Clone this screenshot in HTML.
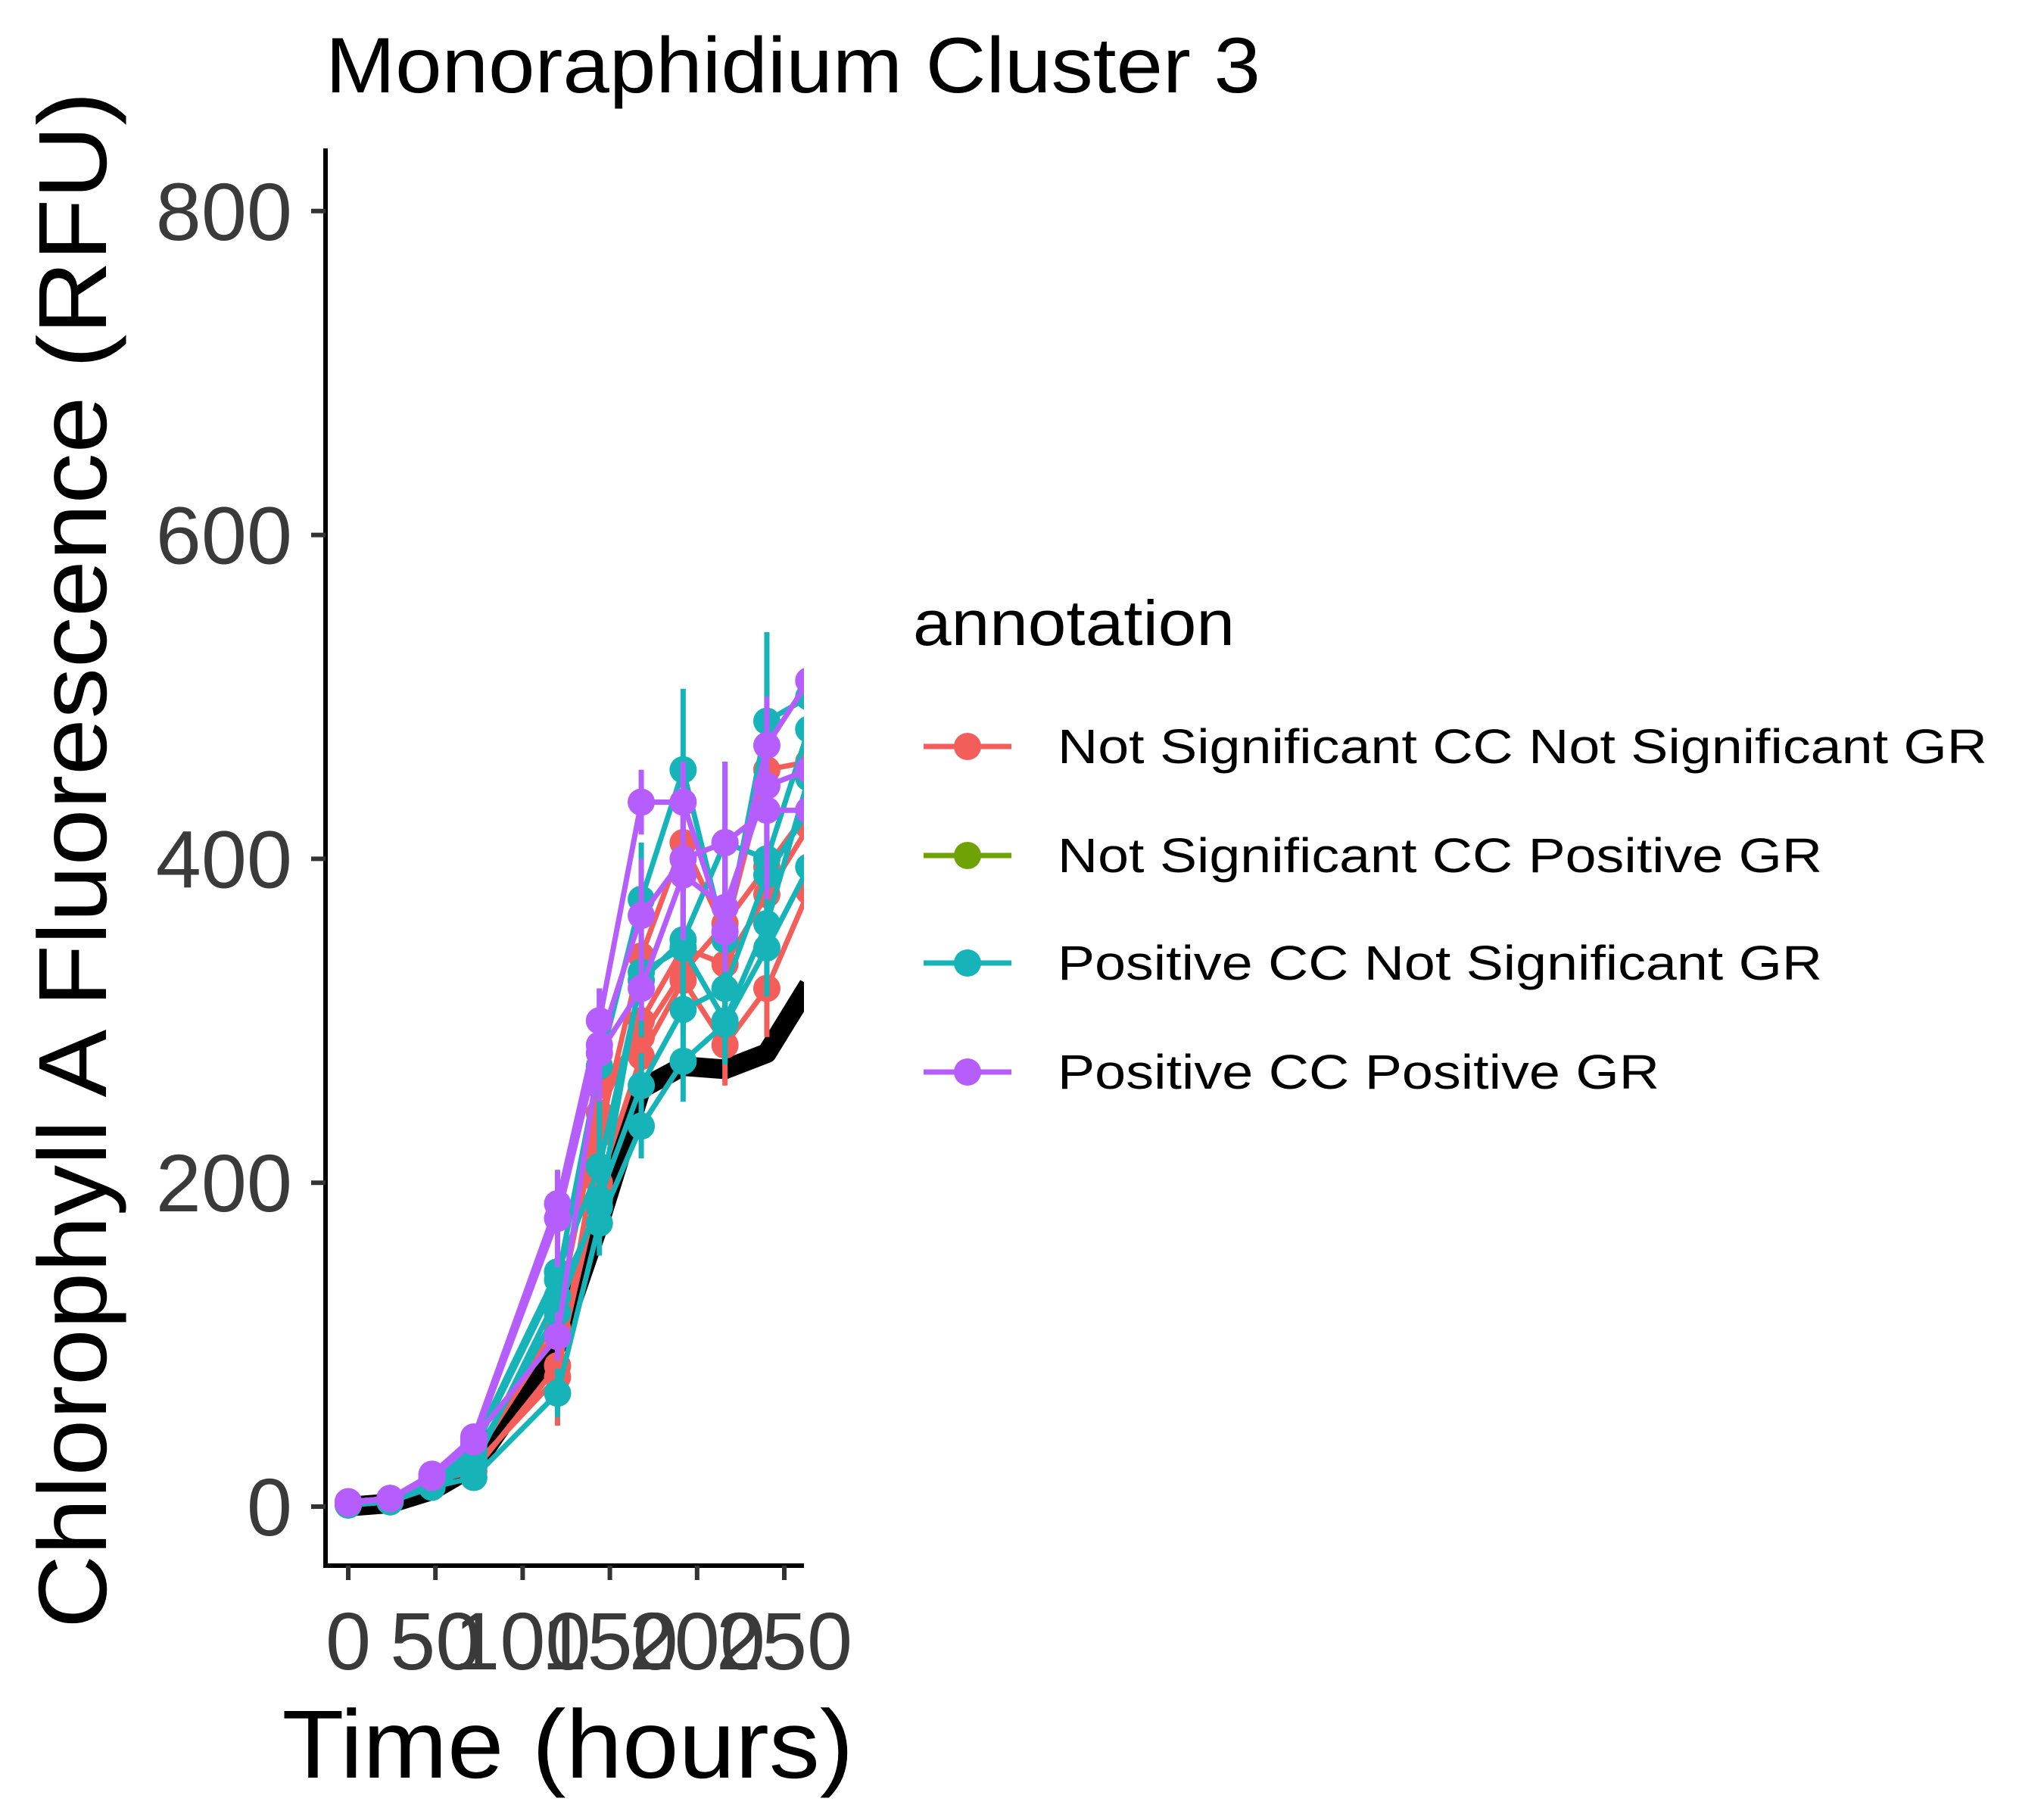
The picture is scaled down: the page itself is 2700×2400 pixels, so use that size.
<!DOCTYPE html>
<html><head><meta charset="utf-8">
<style>html,body{margin:0;padding:0;background:#fff}svg{display:block}</style>
</head><body>
<svg id="chart" xmlns="http://www.w3.org/2000/svg" width="2700" height="2400" viewBox="0 0 2700 2400" font-family="'Liberation Sans', Arial, sans-serif">
<rect x="0" y="0" width="2700" height="2400" fill="#fff"/>
<defs><clipPath id="panelClip"><rect x="430" y="196" width="632" height="1872"/></clipPath></defs>
<text x="430" y="122" font-size="104" fill="#000" textLength="1235" lengthAdjust="spacingAndGlyphs">Monoraphidium Cluster 3</text>
<text transform="translate(140,1136) rotate(-90)" text-anchor="middle" font-size="128" fill="#000" textLength="2030" lengthAdjust="spacingAndGlyphs">Chlorophyll A Fluorescence (RFU)</text>
<text x="750" y="2348" text-anchor="middle" font-size="128" fill="#000" textLength="755" lengthAdjust="spacingAndGlyphs">Time (hours)</text>
<g id="series" clip-path="url(#panelClip)"></g>
<g id="axes"></g>
<g id="legend">
<text x="1206" y="852" font-size="84" fill="#000" textLength="425" lengthAdjust="spacingAndGlyphs">annotation</text>
</g>
</svg>
<script>
const timesH = [0,24,48,72,120,144,168,192,216,240,264];
const yTicks = [0,200,400,600,800];
const xTicks = [0,50,100,150,200,250];
const legendLabels = ["Not Significant CC Not Significant GR","Not Significant CC Positive GR","Positive CC Not Significant GR","Positive CC Positive GR"];
const legendColors = ["#F35E5A","#6FA204","#16B4B8","#B55EFD"];
const meanLine = [0,2,10,25,100,175,258,272,270,280,322];
const redA = [2,4,15,22,87,200,278,325,285,320,380];
const redB = [3,5,16,28,118,243,300,345,335,378,420];
const redC = [2,5,14,25,80,230,340,410,355,455,460];
const redD = [3,5,15,30,110,260,290,330,360,395,430];
const tealA = [1,3,12,18,70,175,235,275,298,345,395];
const tealB = [2,4,13,35,140,272,375,455,350,485,500];
const tealC = [1,3,12,30,120,190,260,307,320,390,430];
const tealD = [2,4,14,38,145,210,325,350,410,400,480];
const tealE = [1,3,12,25,130,185,330,345,300,360,450];
const purpA = [3,5,20,43,187,300,435,435,355,470,510];
const purpB = [2,5,18,40,178,285,365,400,410,430,430];
const purpC = [3,5,18,42,105,280,320,390,370,445,455];
const errSmall = [1,1,2,4,15,20,20,25,25,30,30];
const errBig = [1,2,3,6,30,35,35,50,50,55,50];

const seriesList = [
 {vals:redA, c:0, e:errSmall},{vals:redB, c:0, e:errBig},{vals:redC, c:0, e:errBig},{vals:redD, c:0, e:errSmall},
 {vals:tealA, c:2, e:errSmall},{vals:tealB, c:2, e:errBig},{vals:tealC, c:2, e:errSmall},{vals:tealD, c:2, e:errBig},{vals:tealE, c:2, e:errSmall},
 {vals:purpA, c:3, e:errSmall},{vals:purpB, c:3, e:errBig},{vals:purpC, c:3, e:errSmall}
];
const NS = "http://www.w3.org/2000/svg";
const X0 = 460, XS = 2.304, Y0 = 1990, YS = 2.139;
function sx(t){ return X0 + t*XS; }
function sy(v){ return Y0 - v*YS; }
function mk(tag, attrs, parent){ const e = document.createElementNS(NS, tag); for (const k in attrs) e.setAttribute(k, attrs[k]); parent.appendChild(e); return e; }

const sg = document.getElementById('series');
const mpath = mk('path', {d: meanLine.map((v,i)=>(i?'L':'M')+sx(timesH[i])+','+sy(v)).join(' '), fill:'none', stroke:'#000', 'stroke-width':26, 'stroke-linejoin':'round'}, sg);



seriesList.forEach((s, si) => {
  const g = mk('g', {}, sg);
  
  
  const col = legendColors[s.c];
  s.vals.forEach((v,i)=>{
    const eb = mk('line', {x1:sx(timesH[i]), x2:sx(timesH[i]), y1:sy(v+s.e[i]), y2:sy(v-s.e[i]), stroke:col, 'stroke-width':7}, g);
    
    
  });
  const p = mk('path', {d: s.vals.map((v,i)=>(i?'L':'M')+sx(timesH[i])+','+sy(v)).join(' '), fill:'none', stroke:col, 'stroke-width':7}, g);
  
  
  s.vals.forEach((v,i)=>{
    const c = mk('circle', {cx:sx(timesH[i]), cy:sy(v), r:18, fill:col}, g);
    
    
  });
});

const ax = document.getElementById('axes');
const yl = mk('line', {x1:430, x2:430, y1:196, y2:2071, stroke:'#000', 'stroke-width':6}, ax);


const xl = mk('line', {x1:427, x2:1062, y1:2068, y2:2068, stroke:'#000', 'stroke-width':6}, ax);


yTicks.forEach(v=>{
  const t = mk('line', {x1:411, x2:430, y1:sy(v), y2:sy(v), stroke:'#333', 'stroke-width':6}, ax);
  
  
  const l = mk('text', {x:386, y:sy(v)+38, 'text-anchor':'end', 'font-size':108, fill:'#3a3a3a'}, ax);
  l.textContent = v;
  
  
});
xTicks.forEach(v=>{
  const t = mk('line', {x1:sx(v), x2:sx(v), y1:2068, y2:2087, stroke:'#333', 'stroke-width':6}, ax);
  
  
  const l = mk('text', {x:sx(v), y:2205, 'text-anchor':'middle', 'font-size':108, fill:'#3a3a3a'}, ax);
  l.textContent = v;
  
  
});

const lg = document.getElementById('legend');
const lys = [986,1130,1272,1416];
const lwid = [1228,1010,1010,795];
legendLabels.forEach((lab,i)=>{
  const g = mk('g', {}, lg);
  
  
  mk('line', {x1:1220, x2:1336, y1:lys[i], y2:lys[i], stroke:legendColors[i], 'stroke-width':7}, g);
  mk('circle', {cx:1278, cy:lys[i], r:18, fill:legendColors[i]}, g);
  const t = mk('text', {x:1397, y:lys[i]+22, 'font-size':64, fill:'#000', textLength:lwid[i], lengthAdjust:'spacingAndGlyphs'}, g);
  t.textContent = lab;
  
  
});
</script>
</body></html>
